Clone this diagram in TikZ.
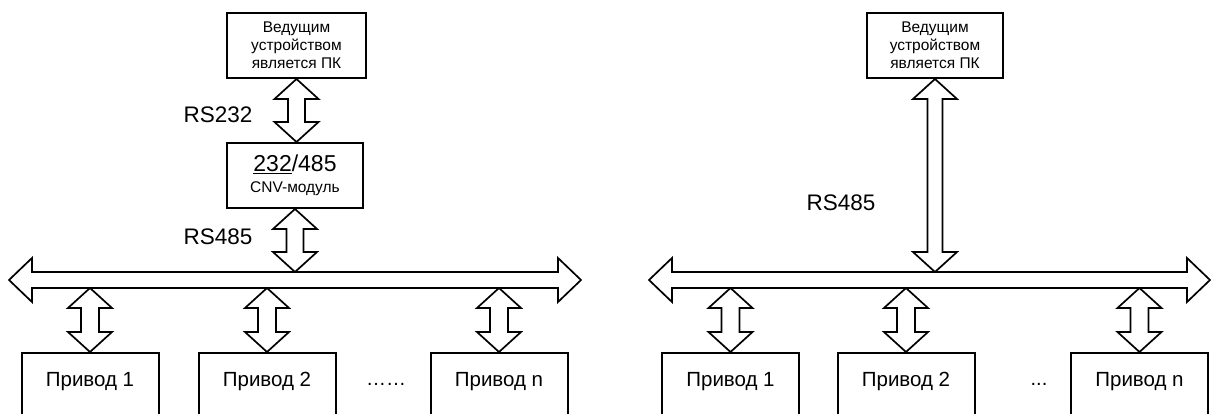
\documentclass[tikz,border=0pt]{standalone}
\usepackage{fontspec}
\setmainfont{Liberation Sans}
\usetikzlibrary{calc}
\tikzset{
  pcbox/.style={draw, line width=2pt, minimum width=139pt, minimum height=65pt,
    inner sep=0pt, align=center, font=\fontsize{15.5}{18}\selectfont},
  drvbox/.style={draw, line width=2pt, minimum width=137pt, anchor=north,
    inner ysep=0pt, text height=33pt, text depth=80pt, font=\fontsize{20.5}{24}\selectfont},
  buslabel/.style={font=\fontsize{22.5}{26}\selectfont},
  dblarrow/.style={draw, fill=white, line width=1.7pt, line join=miter}
}
\newcommand\vdarrow[3]{%
  \path[dblarrow] let \p1=(#1), \p2=(#2) in
  (\x1,\y1) -- (\x1+22pt,\y1-20pt) -- (\x1+#3,\y1-20pt) -- (\x1+#3,\y2+20pt)
  -- (\x1+22pt,\y2+20pt) -- (\x1,\y2) -- (\x1-22pt,\y2+20pt) -- (\x1-#3,\y2+20pt)
  -- (\x1-#3,\y1-20pt) -- (\x1-22pt,\y1-20pt) -- cycle;}
\newcommand\hdarrow[2]{%
  \path[dblarrow] let \p1=(#1), \p2=(#2) in
  (\x1,\y1) -- (\x1+23pt,\y1+22pt) -- (\x1+23pt,\y1+8pt) -- (\x2-23pt,\y1+8pt)
  -- (\x2-23pt,\y1+22pt) -- (\x2,\y1) -- (\x2-23pt,\y1-22pt) -- (\x2-23pt,\y1-8pt)
  -- (\x1+23pt,\y1-8pt) -- (\x1+23pt,\y1-22pt) -- cycle;}
\begin{document}
\begin{tikzpicture}[x=1pt,y=-1pt]
\useasboundingbox (0,0) rectangle (1211,414);
\clip (0,0) rectangle (1211,414);

% ---------- left diagram ----------
\node[pcbox] (pcA) at (296.5,45.5) {Ведущим\\устройством\\является ПК};
\node[pcbox, minimum width=136pt] (conv) at (295,175.5)
  {{\fontsize{23}{26}\selectfont \underline{232}/485}\\[3pt]CNV-модуль};
\node[drvbox] (dA1) at (90,352) {Привод 1};
\node[drvbox] (dA2) at (267,352) {Привод 2};
\node[drvbox] (dAn) at (499,352) {Привод n};
\node[font=\fontsize{20}{24}\selectfont] (dotsA) at (386,384) {……};

\node[buslabel] (lA1) at (218,115) {RS232};
\node[buslabel] (lA2) at (218,237) {RS485};

\coordinate (busAL) at (9,280);
\coordinate (busAR) at (581,280);
\coordinate (busAtop) at (0,272);
\coordinate (busAbot) at (0,288);
\coordinate (cA0) at (conv.south |- busAtop);
\coordinate (cA1) at (dA1.north |- busAbot);
\coordinate (cA2) at (dA2.north |- busAbot);
\coordinate (cAn) at (dAn.north |- busAbot);

\vdarrow{pcA.south}{conv.north}{8.5pt}
\vdarrow{conv.south}{cA0}{8.5pt}
\hdarrow{busAL}{busAR}
\vdarrow{cA1}{dA1.north}{9pt}
\vdarrow{cA2}{dA2.north}{9pt}
\vdarrow{cAn}{dAn.north}{9pt}

% ---------- right diagram ----------
\node[pcbox, minimum width=136pt] (pcB) at (935,45.5) {Ведущим\\устройством\\является ПК};
\node[drvbox] (dB1) at (730.5,352) {Привод 1};
\node[drvbox] (dB2) at (906,352) {Привод 2};
\node[drvbox] (dBn) at (1139.5,352) {Привод n};
\node[font=\fontsize{20}{24}\selectfont] (dotsB) at (1039,384) {...};

\node[buslabel] (lB) at (841,203) {RS485};

\coordinate (busBL) at (649,280);
\coordinate (busBR) at (1210,280);
\coordinate (busBtop) at (0,272);
\coordinate (busBbot) at (0,288);
\coordinate (cB0) at (pcB.south |- busBtop);
\coordinate (cB1) at (dB1.north |- busBbot);
\coordinate (cB2) at (dB2.north |- busBbot);
\coordinate (cBn) at (dBn.north |- busBbot);

\vdarrow{pcB.south}{cB0}{7.5pt}
\hdarrow{busBL}{busBR}
\vdarrow{cB1}{dB1.north}{9pt}
\vdarrow{cB2}{dB2.north}{9pt}
\vdarrow{cBn}{dBn.north}{9pt}
\end{tikzpicture}
\end{document}
